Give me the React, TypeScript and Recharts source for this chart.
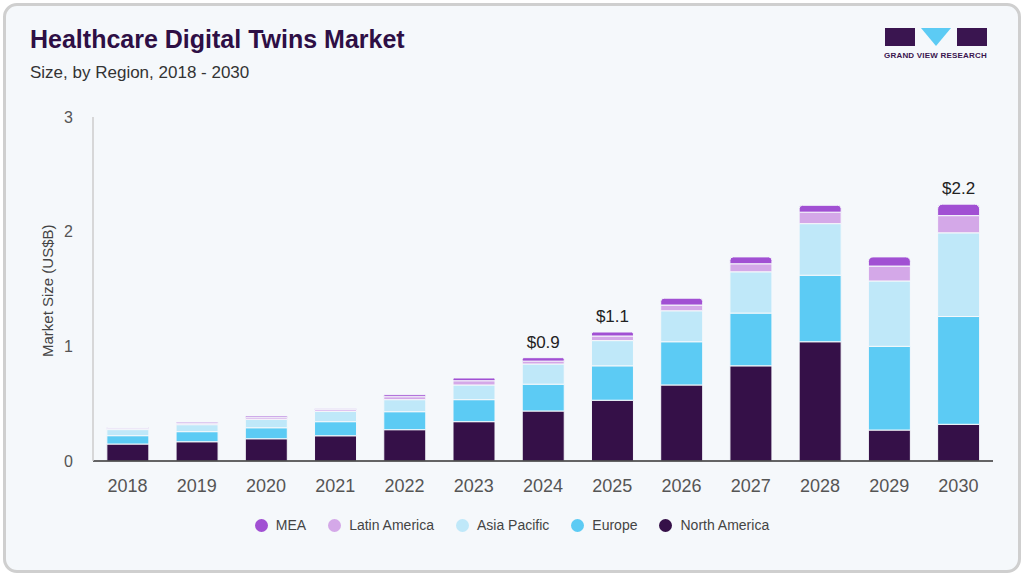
import { BarChart, Bar, XAxis, YAxis, LabelList } from "recharts";

const years = ["2018", "2019", "2020", "2021", "2022", "2023", "2024", "2025", "2026", "2027", "2028", "2029", "2030"];
const northAmerica = [0.148, 0.168, 0.194, 0.22, 0.273, 0.343, 0.436, 0.53, 0.663, 0.83, 1.04, 0.27, 0.32];
const europe = [0.073, 0.088, 0.096, 0.123, 0.157, 0.192, 0.234, 0.3, 0.377, 0.46, 0.58, 0.73, 0.94];
const asiaPacific = [0.053, 0.061, 0.073, 0.09, 0.105, 0.128, 0.176, 0.22, 0.27, 0.36, 0.45, 0.57, 0.73];
const latinAmerica = [0.012, 0.014, 0.015, 0.015, 0.026, 0.037, 0.025, 0.04, 0.05, 0.07, 0.1, 0.13, 0.15];
const mea = [0.006, 0.009, 0.014, 0.007, 0.017, 0.024, 0.03, 0.035, 0.06, 0.06, 0.06, 0.08, 0.1];
const totalLabels: Record<string, string> = { "2024": "$0.9", "2025": "$1.1", "2030": "$2.2" };

const data = years.map((year, i) => ({
  year,
  na: northAmerica[i],
  eu: europe[i],
  ap: asiaPacific[i],
  la: latinAmerica[i],
  mea: mea[i],
}));

const series = [
  { key: "mea", name: "MEA", color: "#a150d3" },
  { key: "la", name: "Latin America", color: "#d4a8e8" },
  { key: "ap", name: "Asia Pacific", color: "#bfe8f9" },
  { key: "eu", name: "Europe", color: "#5ccbf4" },
  { key: "na", name: "North America", color: "#351048" },
];

const font = "'Liberation Sans', Arial, sans-serif";

const TotalLabel = (props: any) => {
  const { x, y, width, index } = props;
  const text = totalLabels[years[index]];
  if (!text) return null;
  return (
    <text x={x + width / 2} y={y - 10} textAnchor="middle" fontSize={17} fill="#222" fontFamily={font}>
      {text}
    </text>
  );
};

export default function App() {
  const stack = [...series].reverse();
  return (
    <div style={{ position: "absolute", left: 0, top: 0, width: 1024, height: 576, background: "#fff", fontFamily: font }}>
      <div style={{ position: "absolute", left: 3, top: 3, width: 1012, height: 564, border: "3px solid #cfcfcf", borderRadius: 14, background: "#f5f8fb" }} />
      <div style={{ position: "absolute", left: 30, top: 25, fontSize: 25, fontWeight: 700, color: "#2e0f45" }}>Healthcare Digital Twins Market</div>
      <div style={{ position: "absolute", left: 30, top: 63, fontSize: 17, color: "#333" }}>Size, by Region, 2018 - 2030</div>
      <div style={{ position: "absolute", left: 885, top: 28, display: "flex", gap: 6 }}>
        <div style={{ width: 30, height: 18, background: "#3a1550" }} />
        <div style={{ width: 0, height: 0, borderLeft: "15px solid transparent", borderRight: "15px solid transparent", borderTop: "18px solid #5ccbf4" }} />
        <div style={{ width: 30, height: 18, background: "#3a1550" }} />
      </div>
      <div style={{ position: "absolute", left: 884, top: 51, fontSize: 8, fontWeight: 700, color: "#3a1550", letterSpacing: 0.2 }}>GRAND VIEW RESEARCH</div>
      <div style={{ position: "absolute", left: 0, top: 0 }}>
        <BarChart width={1024} height={576} data={data} margin={{ top: 117, right: 31, bottom: 85, left: 53 }} barCategoryGap="20%">
          <XAxis dataKey="year" height={30} axisLine={{ stroke: "#333", strokeWidth: 1.5 }} tickLine={false} tick={{ fontSize: 18, fill: "#555", fontFamily: font }} tickMargin={12} />
          <YAxis width={40} domain={[0, 3]} ticks={[0, 1, 2, 3]} axisLine={{ stroke: "#ccc", strokeWidth: 1.5 }} tickLine={false} tick={{ fontSize: 16, fill: "#555", fontFamily: font }} tickMargin={14}
            label={{ value: "Market Size (US$B)", angle: -90, position: "insideLeft", dx: -10, dy: 68, style: { fontSize: 15, fill: "#444", fontFamily: font } }} />
          {stack.map((s) => (
            <Bar key={s.key} dataKey={s.key} name={s.name} stackId="a" fill={s.color} stroke="#f5f8fb" strokeWidth={1}
              radius={s.key === "mea" ? [5, 5, 0, 0] : 0} isAnimationActive={false}>
              {s.key === "mea" && <LabelList dataKey="mea" content={TotalLabel} />}
            </Bar>
          ))}
        </BarChart>
      </div>
      <div style={{ position: "absolute", left: 0, width: 1024, top: 517, display: "flex", justifyContent: "center", gap: 22, fontSize: 14, color: "#444" }}>
        {series.map((s) => (
          <div key={s.key} style={{ display: "flex", alignItems: "center", gap: 8 }}>
            <div style={{ width: 13, height: 13, borderRadius: "50%", background: s.color }} />
            <span>{s.name}</span>
          </div>
        ))}
      </div>
    </div>
  );
}
